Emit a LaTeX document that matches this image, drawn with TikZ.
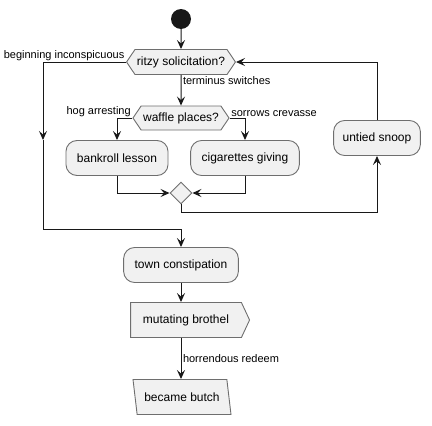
\documentclass[tikz,border=0pt]{standalone}
\usepackage{fontspec}
\setmainfont{Liberation Sans}
\usetikzlibrary{arrows.meta,positioning,shapes.geometric,shapes.symbols}
\definecolor{boxfill}{HTML}{F1F1F1}
\definecolor{boxline}{HTML}{6E6E6E}
\definecolor{ink}{HTML}{181818}
\begin{document}
\begin{tikzpicture}[x=1pt,y=-1pt,node distance=40pt,
  act/.style={draw=boxline, line width=0.9pt, fill=boxfill, rounded corners=11pt, minimum height=35pt, inner xsep=11pt, font=\fontsize{12}{14}\selectfont},
  cond/.style={draw=boxline, line width=0.9pt, fill=boxfill, signal, signal to=east and west, signal pointer angle=112, minimum height=25pt, inner xsep=2pt, font=\fontsize{12}{14}\selectfont},
  lbl/.style={inner sep=1.5pt, font=\fontsize{11}{13}\selectfont},
  flow/.style={draw=ink, line width=1pt, -{Stealth[length=9pt,width=8pt,inset=3.5pt]}},
  line/.style={draw=ink, line width=1pt}]
\useasboundingbox (0,0) rectangle (432,426);
\node (start) [circle, fill=ink, minimum size=20pt, inner sep=0pt] at (181,19) {};
\node (ritzy) [cond, below of=start, yshift=-3pt] {ritzy solicitation?};
\node (waffle) [cond, minimum height=24pt, below of=ritzy, yshift=-16pt] {waffle places?};
\node (bankroll) [act, below of=waffle, xshift=-64pt] {bankroll lesson};
\node (cigs) [act, below of=waffle, xshift=64pt] {cigarettes giving};
\node (merge) [diamond, draw=boxline, line width=0.9pt, fill=boxfill, minimum size=22pt, inner sep=0pt, below of=waffle, yshift=-35pt] {};
\node (untied) [act, inner xsep=9pt] at (377,138) {untied snoop};
\node (town) [act] at (181,265) {town constipation};
\node (mutating) [signal, signal to=east, signal pointer angle=130, draw=boxline, line width=0.9pt, fill=boxfill, minimum height=35pt, minimum width=119pt, font=\fontsize{12}{14}\selectfont] at (186,320) {mutating brothel};
\node (butch) [trapezium, trapezium left angle=105, trapezium right angle=75, trapezium stretches body, draw=boxline, line width=0.9pt, fill=boxfill, minimum height=35pt, minimum width=98pt, font=\fontsize{12}{14}\selectfont] at (182,397) {became butch};
\coordinate (rail) at (43,140);

% main loop
\draw[flow] (start) -- (ritzy);
\draw[flow] (ritzy) -- node[lbl, anchor=north west, pos=0] {terminus switches} (waffle);
\draw[flow] (ritzy.west) -| (rail);
\node[lbl, anchor=south east] at (ritzy.west) {beginning inconspicuous};
\draw[flow] (rail) |- ([yshift=18pt]town.north) -- (town.north);
\draw[flow] (waffle.west) -| (bankroll.north);
\node[lbl, anchor=south east] at (waffle.west) {hog arresting};
\draw[flow] (waffle.east) -| (cigs.north);
\node[lbl, anchor=south west] at (waffle.east) {sorrows crevasse};
\draw[flow] (bankroll.south) |- (merge.west);
\draw[flow] (cigs.south) |- (merge.east);
\draw[flow] (merge.south) -- ++(0,8) -| (untied.south);
\draw[flow] (untied.north) |- (ritzy.east);

% tail
\draw[flow] (town.south) -- (town.south |- mutating.north);
\draw[flow] (town.south |- mutating.south) -- node[lbl, anchor=west] {horrendous redeem} (town.south |- butch.north);
\end{tikzpicture}
\end{document}
